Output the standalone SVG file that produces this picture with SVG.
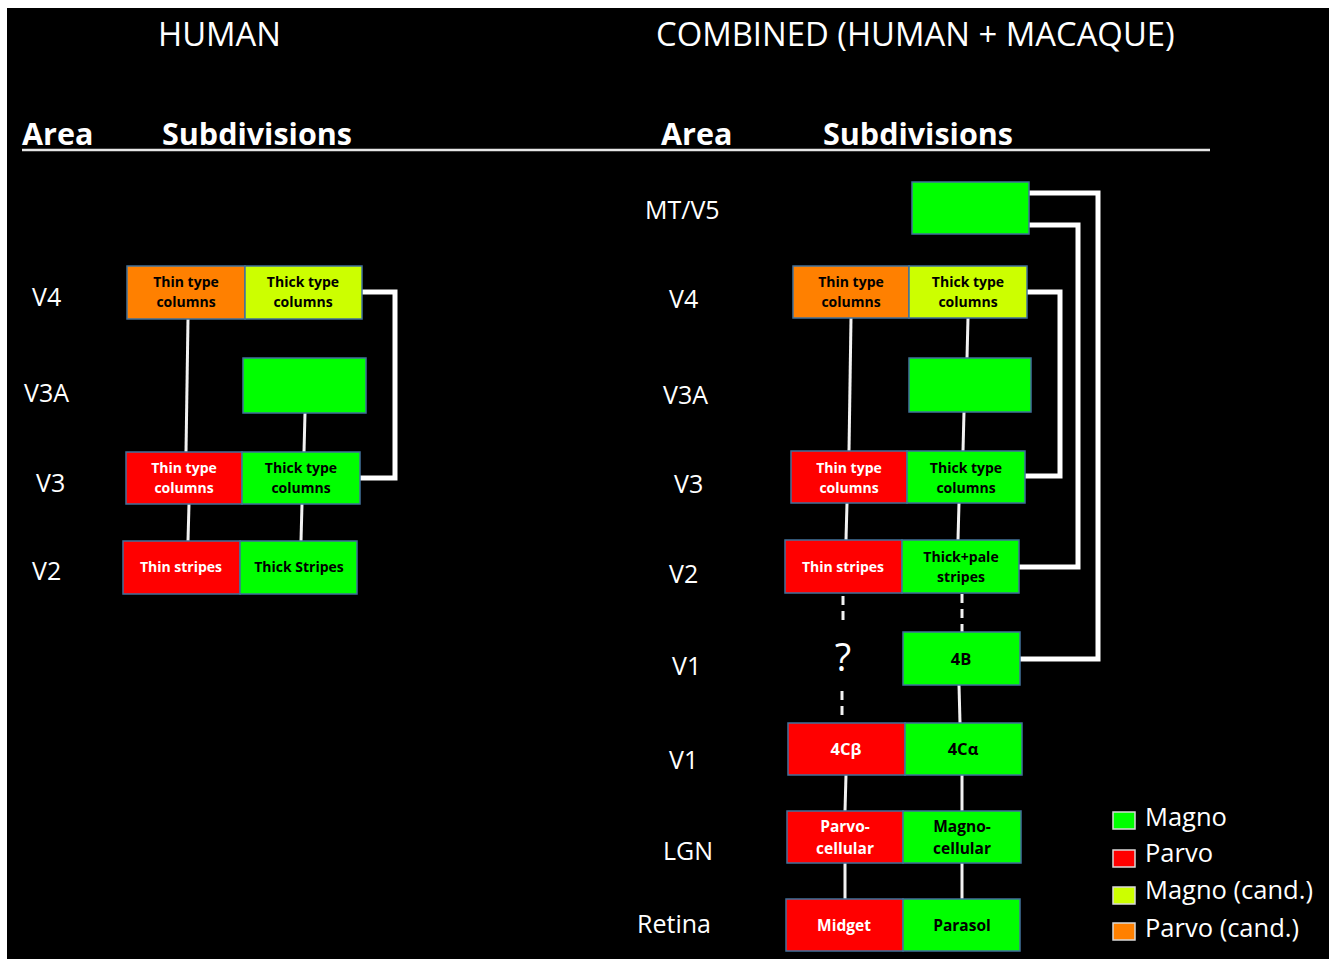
<svg xmlns="http://www.w3.org/2000/svg" width="1333" height="959" viewBox="0 0 1333 959">
<style>
text{font-family:"Open Sans","Noto Sans","DejaVu Sans",sans-serif;}
.title{fill:#fff;font-size:32.8px;}
.head{fill:#fff;font-size:30.5px;font-weight:bold;}
.area{fill:#fff;font-size:25px;}
.bx{stroke:#41719C;stroke-width:1.5;}
.org{fill:#FF8000;}
.yel{fill:#CCFF00;}
.red{fill:#FF0000;}
.grn{fill:#00FF00;}
.bt{font-size:14px;font-weight:bold;text-anchor:middle;}
.bt2{font-size:15.5px;font-weight:bold;text-anchor:middle;}
.bt3{font-size:16.5px;font-weight:bold;text-anchor:middle;}
.dk{fill:#000;}
.wt{fill:#fff;}
.ln{stroke:#f2f2f2;stroke-width:3;fill:none;}
.dash{stroke:#f2f2f2;stroke-width:3;fill:none;stroke-dasharray:9,6;}
.br{stroke:#fff;stroke-width:5;fill:none;}
.leg{fill:#fff;font-size:25.5px;}
.lsq{stroke:#d9d9d9;stroke-width:1.5;}
</style>
<rect x="0" y="0" width="1333" height="959" fill="#fff"/>
<rect x="7" y="8" width="1322" height="951" fill="#000"/>

<text class="title" x="158" y="46">HUMAN</text>
<text class="title" x="656" y="46">COMBINED (HUMAN + MACAQUE)</text>
<text class="head" x="22" y="145">Area</text>
<text class="head" x="162" y="145">Subdivisions</text>
<text class="head" x="661" y="145">Area</text>
<text class="head" x="823" y="145">Subdivisions</text>
<line x1="22" y1="150" x2="1210" y2="150" stroke="#e6e6e6" stroke-width="2.5"/>

<g id="left-area-labels">
<text class="area" x="32" y="306">V4</text>
<text class="area" x="24" y="402">V3A</text>
<text class="area" x="36" y="492">V3</text>
<text class="area" x="32" y="580">V2</text>
</g>
<g id="right-area-labels">
<text class="area" x="645" y="219">MT/V5</text>
<text class="area" x="669" y="308">V4</text>
<text class="area" x="663" y="404">V3A</text>
<text class="area" x="674" y="493">V3</text>
<text class="area" x="669" y="583">V2</text>
<text class="area" x="672" y="675">V1</text>
<text class="area" x="669" y="769">V1</text>
<text class="area" x="663" y="860">LGN</text>
<text class="area" x="637" y="933">Retina</text>
</g>

<g id="connectors">
<line class="ln" x1="188" y1="319" x2="186" y2="452"/>
<line class="ln" x1="305" y1="413" x2="304" y2="452"/>
<line class="ln" x1="189" y1="504" x2="188" y2="541"/>
<line class="ln" x1="302" y1="504" x2="301" y2="541"/>
<polyline class="br" points="362,292 395,292 395,478 360,478"/>

<line class="ln" x1="851" y1="318" x2="849" y2="451"/>
<line class="ln" x1="968" y1="318" x2="967" y2="358"/>
<line class="ln" x1="964" y1="412" x2="963" y2="451"/>
<line class="ln" x1="847" y1="503" x2="846" y2="540"/>
<line class="ln" x1="959" y1="503" x2="958" y2="540"/>
<line class="dash" x1="843" y1="596" x2="843" y2="621"/>
<line class="dash" x1="962" y1="594" x2="962" y2="632"/>
<line class="dash" x1="842" y1="691" x2="842" y2="721"/>
<line class="ln" x1="959" y1="685" x2="960" y2="723"/>
<line class="ln" x1="846" y1="775" x2="845" y2="811"/>
<line class="ln" x1="962" y1="775" x2="962" y2="811"/>
<line class="ln" x1="845" y1="863" x2="845" y2="899"/>
<line class="ln" x1="962" y1="863" x2="962" y2="899"/>
<polyline class="br" points="1029,193 1098,193 1098,659 1020,659"/>
<polyline class="br" points="1029,225 1078,225 1078,567 1019,567"/>
<polyline class="br" points="1027,292 1060,292 1060,476 1025,476"/>
<text x="843" y="671" fill="#fff" font-size="38" text-anchor="middle">?</text>
</g>

<g id="h-v4-thin"><rect class="bx org" x="127" y="266" width="118" height="53"/><text class="bt dk" x="186" y="287">Thin type</text><text class="bt dk" x="186" y="307">columns</text></g>
<g id="h-v4-thick"><rect class="bx yel" x="245" y="266" width="117" height="53"/><text class="bt dk" x="303" y="287">Thick type</text><text class="bt dk" x="303" y="307">columns</text></g>
<g id="h-v3a"><rect class="bx grn" x="243" y="358" width="123" height="55"/></g>
<g id="h-v3-thin"><rect class="bx red" x="126" y="452" width="116" height="52"/><text class="bt wt" x="184" y="473">Thin type</text><text class="bt wt" x="184" y="493">columns</text></g>
<g id="h-v3-thick"><rect class="bx grn" x="242" y="452" width="118" height="52"/><text class="bt dk" x="301" y="473">Thick type</text><text class="bt dk" x="301" y="493">columns</text></g>
<g id="h-v2-thin"><rect class="bx red" x="123" y="541" width="117" height="53"/><text class="bt wt" x="181" y="572">Thin stripes</text></g>
<g id="h-v2-thick"><rect class="bx grn" x="240" y="541" width="117" height="53"/><text class="bt dk" x="299" y="572">Thick Stripes</text></g>

<g id="c-mt"><rect class="bx grn" x="912" y="182" width="117" height="52"/></g>
<g id="c-v4-thin"><rect class="bx org" x="793" y="266" width="116" height="52"/><text class="bt dk" x="851" y="287">Thin type</text><text class="bt dk" x="851" y="307">columns</text></g>
<g id="c-v4-thick"><rect class="bx yel" x="909" y="266" width="118" height="52"/><text class="bt dk" x="968" y="287">Thick type</text><text class="bt dk" x="968" y="307">columns</text></g>
<g id="c-v3a"><rect class="bx grn" x="909" y="358" width="122" height="54"/></g>
<g id="c-v3-thin"><rect class="bx red" x="791" y="451" width="116" height="52"/><text class="bt wt" x="849" y="473">Thin type</text><text class="bt wt" x="849" y="493">columns</text></g>
<g id="c-v3-thick"><rect class="bx grn" x="907" y="451" width="118" height="52"/><text class="bt dk" x="966" y="473">Thick type</text><text class="bt dk" x="966" y="493">columns</text></g>
<g id="c-v2-thin"><rect class="bx red" x="785" y="540" width="117" height="53"/><text class="bt wt" x="843" y="572">Thin stripes</text></g>
<g id="c-v2-thick"><rect class="bx grn" x="902" y="540" width="117" height="53"/><text class="bt dk" x="961" y="562">Thick+pale</text><text class="bt dk" x="961" y="582">stripes</text></g>
<g id="c-4b"><rect class="bx grn" x="903" y="632" width="117" height="53"/><text class="bt3 dk" x="961" y="665">4B</text></g>
<g id="c-4cb"><rect class="bx red" x="788" y="723" width="117" height="52"/><text class="bt3 wt" x="846" y="755">4Cβ</text></g>
<g id="c-4ca"><rect class="bx grn" x="905" y="723" width="117" height="52"/><text class="bt3 dk" x="963" y="755">4Cα</text></g>
<g id="c-lgn-p"><rect class="bx red" x="787" y="811" width="116" height="52"/><text class="bt2 wt" x="845" y="832">Parvo-</text><text class="bt2 wt" x="845" y="854">cellular</text></g>
<g id="c-lgn-m"><rect class="bx grn" x="903" y="811" width="118" height="52"/><text class="bt2 dk" x="962" y="832">Magno-</text><text class="bt2 dk" x="962" y="854">cellular</text></g>
<g id="c-ret-m"><rect class="bx red" x="786" y="899" width="117" height="52"/><text class="bt2 wt" x="844" y="931">Midget</text></g>
<g id="c-ret-p"><rect class="bx grn" x="903" y="899" width="117" height="52"/><text class="bt2 dk" x="962" y="931">Parasol</text></g>

<g id="legend">
<rect class="lsq grn" x="1113" y="812" width="22" height="17"/><text class="leg" x="1145" y="826">Magno</text>
<rect class="lsq red" x="1113" y="850" width="22" height="17"/><text class="leg" x="1145" y="862">Parvo</text>
<rect class="lsq yel" x="1113" y="887" width="22" height="17"/><text class="leg" x="1145" y="899">Magno (cand.)</text>
<rect class="lsq org" x="1113" y="923" width="22" height="17"/><text class="leg" x="1145" y="937">Parvo (cand.)</text>
</g>
</svg>
